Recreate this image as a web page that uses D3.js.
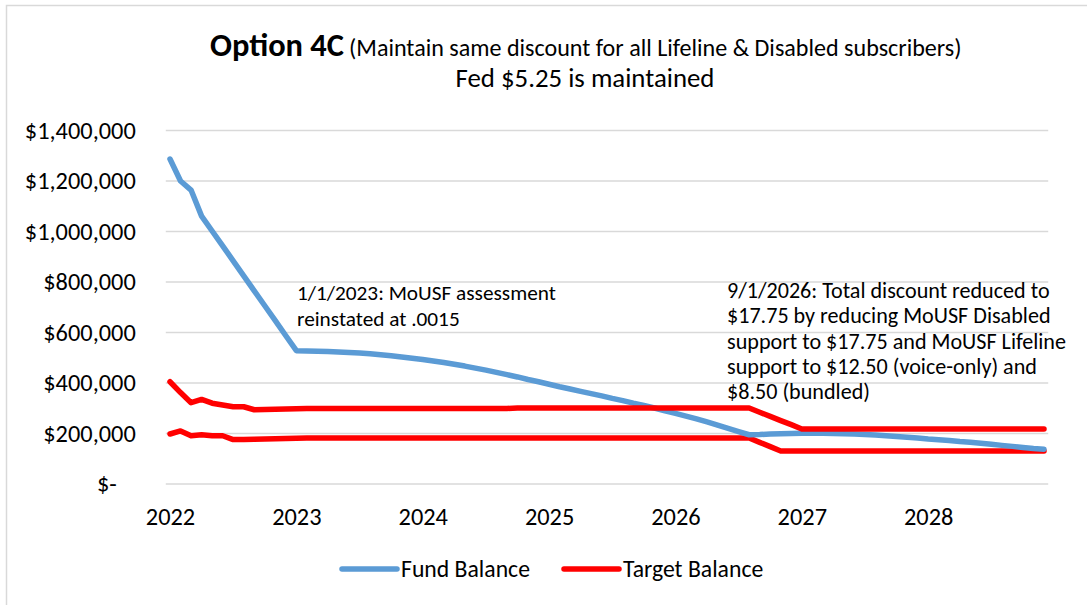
<!DOCTYPE html>
<html><head><meta charset="utf-8">
<script src="https://cdn.jsdelivr.net/npm/d3@7"></script>
<style>
body{margin:0;background:#fff}
svg{display:block}
text{font-family:Carlito, Calibri, Lato, sans-serif; fill:#000}
</style>
</head><body>
<svg id="c" width="1087" height="605"></svg>
<script>
// ---- data ----
const yearLabels = ["2022","2023","2024","2025","2026","2027","2028"];
const yTickValues = [0,200000,400000,600000,800000,1000000,1200000,1400000];
const fundBalance = [
 1287000,1200000,1164000,1061000,1002000,943000,884000,824000,765000,706000,647000,587000,528000,
 527000,526000,525000,523000,521000,519000,516000,512000,508000,503000,498000,493000,
 487000,481000,474000,467000,459000,451000,442000,433000,424000,414000,405000,395000,
 385000,376000,367000,358000,349000,339000,330000,320000,311000,301000,290000,280000,
 269000,258000,246000,233000,220000,207000,195000,196000,198000,199000,200000,201000,
 201000,201000,200000,199000,198000,196000,194000,191000,188000,185000,182000,178000,
 175000,172000,168000,165000,161000,157000,153000,149000,145000,141000,138000
];
const targetUpper = [
 405000,362000,322000,335000,320000,313000,306000,306000,294000,295000,296000,297000,298000,
 299000,299000,299000,299000,299000,299000,299000,299000,299000,299000,299000,299000,
 299000,299000,299000,299000,299000,299000,299000,299000,301000,301000,301000,301000,
 301000,301000,301000,301000,301000,301000,301000,301000,301000,301000,301000,301000,
 301000,301000,301000,301000,301000,301000,301000,
 284000,268000,251000,235000,218000,
 218000,218000,218000,218000,218000,218000,218000,218000,218000,218000,218000,218000,
 218000,218000,218000,218000,218000,218000,218000,218000,218000,218000,218000
];
const targetLower = [
 198000,210000,191000,195000,191000,191000,176000,176000,177000,178000,179000,180000,181000,
 182000,182000,182000,182000,182000,182000,182000,182000,182000,182000,182000,182000,
 182000,182000,182000,182000,182000,182000,182000,182000,182000,182000,182000,182000,
 182000,182000,182000,182000,182000,182000,182000,182000,182000,182000,182000,182000,
 182000,182000,182000,182000,182000,182000,182000,
 165000,148000,131000,
 131000,131000,131000,131000,131000,131000,131000,131000,131000,131000,131000,131000,
 131000,131000,131000,131000,131000,131000,131000,131000,131000,131000,131000,131000,131000
];
const seriesNames = ["Fund Balance","Target Balance"];
const titleBold = "Option 4C";
const titleRest = "(Maintain same discount for all Lifeline & Disabled subscribers)";
const titleLine2 = "Fed $5.25 is maintained";
const note1 = ["1/1/2023: MoUSF assessment","reinstated at .0015"];
const note2 = ["9/1/2026: Total discount reduced to","$17.75 by reducing MoUSF Disabled",
  "support to $17.75 and MoUSF Lifeline","support to $12.50 (voice-only) and","$8.50 (bundled)"];

// ---- layout ----
const svg = d3.select("#c");
const BLUE = "#5B9BD5", RED = "#FF0000", GRID = "#D9D9D9";
const x = d3.scaleLinear().domain([0, fundBalance.length - 1]).range([170, 1044]);
const y = d3.scaleLinear().domain([0, 1400000]).range([484, 130.5]);

function fit(sel, target){
  const fs = parseFloat(sel.attr("font-size"));
  const w = sel.node().getComputedTextLength();
  const nf = fs * target / w;
  sel.attr("font-size", nf);
  return nf;
}

// frame
svg.append("rect").attr("x",6.5).attr("y",5.5).attr("width",1200).attr("height",800)
  .attr("fill","none").attr("stroke",GRID).attr("stroke-width",1.5);

// gridlines
svg.append("g").selectAll("line").data(yTickValues).join("line")
  .attr("x1", x(-0.4)).attr("x2", x(83.4))
  .attr("y1", d => y(d)).attr("y2", d => y(d))
  .attr("stroke", GRID).attr("stroke-width", 1.5);

// y axis
const fmt = d3.format(",");
const yAxis = svg.append("g").attr("transform", `translate(${x(-0.4)},0)`)
  .call(d3.axisLeft(y).tickValues(yTickValues).tickSize(0).tickPadding(30)
    .tickFormat(d => d === 0 ? "$-" : "$" + fmt(d)));
yAxis.select(".domain").remove();
yAxis.selectAll("text").attr("font-family", null).attr("font-size", 20);
const yfs = fit(yAxis.selectAll("text").filter(d => d === 1400000), 111);
yAxis.selectAll("text").attr("font-size", yfs);
yAxis.selectAll("text").filter(d => d === 0).attr("dx", -19);

// x axis
const xAxis = svg.append("g").attr("transform", `translate(0,${y(0)})`)
  .call(d3.axisBottom(x).tickValues(yearLabels.map((d,i) => i*12)).tickSize(0).tickPadding(24)
    .tickFormat((d,i) => yearLabels[i]));
xAxis.select(".domain").remove();
xAxis.selectAll("text").attr("font-family", null).attr("font-size", yfs);

// lines
const line = d3.line().x((d,i) => x(i)).y(d => y(d));
svg.append("path").datum(targetLower).attr("d", line).attr("fill","none")
  .attr("stroke", RED).attr("stroke-width", 5.5).attr("stroke-linecap","round").attr("stroke-linejoin","round");
svg.append("path").datum(fundBalance).attr("d", line).attr("fill","none")
  .attr("stroke", BLUE).attr("stroke-width", 5.5).attr("stroke-linecap","round").attr("stroke-linejoin","round");
svg.append("path").datum(targetUpper).attr("d", line).attr("fill","none")
  .attr("stroke", RED).attr("stroke-width", 5.5).attr("stroke-linecap","round").attr("stroke-linejoin","round");

// title
const t1 = svg.append("text").attr("x", 210).attr("y", 56).attr("font-size", 28).attr("font-weight","bold").text(titleBold);
fit(t1, 134);
const t2 = svg.append("text").attr("x", 349).attr("y", 56).attr("font-size", 20).text(titleRest);
fit(t2, 613);
const t3 = svg.append("text").attr("x", 585).attr("y", 87).attr("text-anchor","middle").attr("font-size", 24).text(titleLine2);
fit(t3, 259);

// annotations
const probe1 = svg.append("text").attr("font-size",20).text(note1[0]);
const afs1 = fit(probe1, 259); probe1.remove();
const a1 = svg.append("text").attr("font-size", afs1);
a1.selectAll("tspan").data(note1).join("tspan").attr("x", 297).attr("y", (d,i) => 300 + i*25.5).text(d => d);
const probe2 = svg.append("text").attr("font-size",20).text(note2[2]);
const afs2 = fit(probe2, 339); probe2.remove();
const a2 = svg.append("text").attr("font-size", afs2);
a2.selectAll("tspan").data(note2).join("tspan").attr("x", 727).attr("y", (d,i) => 298 + i*25.3).text(d => d);

// legend
const legend = svg.append("g");
const leg = [{name: seriesNames[0], color: BLUE, x1: 342, x2: 397, tx: 401},
             {name: seriesNames[1], color: RED, x1: 564, x2: 619, tx: 623}];
leg.forEach(l => {
  legend.append("line").attr("x1", l.x1).attr("x2", l.x2).attr("y1", 569).attr("y2", 569)
    .attr("stroke", l.color).attr("stroke-width", 5.5).attr("stroke-linecap","round");
});
const lt = legend.selectAll("text.lg").data(leg).join("text").attr("class","lg")
  .attr("x", d => d.tx).attr("y", 577).attr("font-size", 22).text(d => d.name);
const lfs = fit(lt.filter((d,i) => i === 0), 129);
lt.attr("font-size", lfs);
</script>
</body></html>
